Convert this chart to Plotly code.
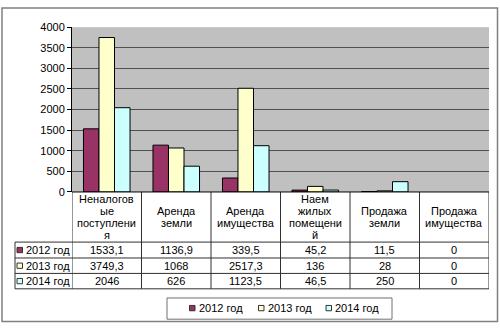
import plotly.graph_objects as go

# ---- data ----
categories = ["Неналогов\nые\nпоступлени\nя", "Аренда\nземли", "Аренда\nимущества",
              "Наем\nжилых\nпомещени\nй", "Продажа\nземли", "Продажа\nимущества"]
series_names = ["2012 год", "2013 год", "2014 год"]
values_2012 = [1533.1, 1136.9, 339.5, 45.2, 11.5, 0]
values_2013 = [3749.3, 1068, 2517.3, 136, 28, 0]
values_2014 = [2046, 626, 1123.5, 46.5, 250, 0]
y_ticks = [0, 500, 1000, 1500, 2000, 2500, 3000, 3500, 4000]

series_values = [values_2012, values_2013, values_2014]
colors = ["#993366", "#FFFFCC", "#CCFFFF"]

W, H = 500, 330
FONT = "Arial, Liberation Sans, sans-serif"


def py(px):
    return (H - px) / H


def px_x(px):
    return px / W


def fmt(v):
    s = f"{v:g}"
    return s.replace(".", ",")


x_idx = list(range(len(categories)))

fig = go.Figure()
for name, vals, col in zip(series_names, series_values, colors):
    fig.add_trace(go.Bar(x=x_idx, y=vals, name=name,
                         marker=dict(color=col,
                                     line=dict(color="#000000",
                                               width=[1 if v else 0 for v in vals])),
                         showlegend=False))

plot_left, plot_right = 72, 489
plot_top, plot_bottom = 22, 193

fig.update_layout(
    width=W, height=H,
    margin=dict(l=0, r=0, t=0, b=0),
    paper_bgcolor="white",
    plot_bgcolor="#C0C0C0",
    barmode="group",
    bargap=0.33,
    bargroupgap=0,
    font=dict(family=FONT, size=11, color="black"),
    xaxis=dict(domain=[px_x(plot_left), px_x(plot_right)],
               range=[-0.5, len(categories) - 0.5],
               showticklabels=False, showgrid=False, zeroline=False,
               showline=False, ticks=""),
    yaxis=dict(domain=[py(plot_bottom), py(plot_top)],
               range=[0, 4000], tickvals=y_ticks,
               ticktext=[str(t) for t in y_ticks],
               showgrid=True, gridcolor="#505050", gridwidth=1,
               zeroline=False, showline=True, linecolor="#000000", linewidth=1,
               ticks="outside", ticklen=4, tickcolor="#000000",
               tickfont=dict(family=FONT, size=11, color="black")),
)

shapes = []
annotations = []
line_col = "#303030"

# table geometry (px)
row_bounds = [193, 245, 261.5, 277.5, 293.5]
label_left = 15

# vertical lines at category boundaries
for k in range(len(categories) + 1):
    shapes.append(dict(type="line", xref="x", yref="paper",
                       x0=k - 0.5, x1=k - 0.5, y0=py(row_bounds[0]), y1=py(row_bounds[-1]),
                       line=dict(color=line_col, width=1)))
# left label column line
shapes.append(dict(type="line", xref="paper", yref="paper",
                   x0=px_x(label_left), x1=px_x(label_left),
                   y0=py(row_bounds[1]), y1=py(row_bounds[-1]),
                   line=dict(color=line_col, width=1)))
# horizontal lines
shapes.append(dict(type="line", xref="paper", yref="paper",
                   x0=px_x(plot_left), x1=px_x(plot_right),
                   y0=py(row_bounds[0]), y1=py(row_bounds[0]),
                   line=dict(color="#000000", width=1)))
for rb in row_bounds[1:]:
    shapes.append(dict(type="line", xref="paper", yref="paper",
                       x0=px_x(label_left), x1=px_x(plot_right),
                       y0=py(rb), y1=py(rb),
                       line=dict(color=line_col, width=1)))

# header text (category labels, wrapped)
hdr_center = (row_bounds[0] + row_bounds[1]) / 2
line_sp = 12.2
for i, cat in enumerate(categories):
    lines = cat.split("\n")
    n = len(lines)
    for j, ln in enumerate(lines):
        yc = hdr_center + (j - (n - 1) / 2) * line_sp
        annotations.append(dict(xref="x", yref="paper", x=i, y=py(yc), text=ln,
                                showarrow=False, xanchor="center", yanchor="middle",
                                font=dict(family=FONT, size=11, color="black")))

# data rows
for r, (name, vals, col) in enumerate(zip(series_names, series_values, colors)):
    yc = (row_bounds[r + 1] + row_bounds[r + 2]) / 2
    for i, v in enumerate(vals):
        annotations.append(dict(xref="x", yref="paper", x=i, y=py(yc), text=fmt(v),
                                showarrow=False, xanchor="center", yanchor="middle",
                                font=dict(family=FONT, size=11, color="black")))
    # legend key
    shapes.append(dict(type="rect", xref="paper", yref="paper",
                       x0=px_x(17), x1=px_x(22.5), y0=py(yc - 2.75), y1=py(yc + 2.75),
                       fillcolor=col, line=dict(color="#333333", width=1)))
    annotations.append(dict(xref="paper", yref="paper", x=px_x(24), y=py(yc), text=name,
                            showarrow=False, xanchor="left", yanchor="middle",
                            font=dict(family=FONT, size=11, color="black")))

# legend box
shapes.append(dict(type="rect", xref="paper", yref="paper",
                   x0=px_x(167), x1=px_x(392), y0=py(325), y1=py(303),
                   fillcolor="white", line=dict(color="#707070", width=1)))
leg_y = 313.5
leg_x = [189.5, 258.5, 326]
for name, col, lx in zip(series_names, colors, leg_x):
    shapes.append(dict(type="rect", xref="paper", yref="paper",
                       x0=px_x(lx), x1=px_x(lx + 5.5), y0=py(leg_y - 2.75), y1=py(leg_y + 2.75),
                       fillcolor=col, line=dict(color="#333333", width=1)))
    annotations.append(dict(xref="paper", yref="paper", x=px_x(lx + 7), y=py(leg_y), text=name,
                            showarrow=False, xanchor="left", yanchor="middle",
                            font=dict(family=FONT, size=11, color="black")))

# outer chart border
shapes.append(dict(type="rect", xref="paper", yref="paper",
                   x0=px_x(2), x1=px_x(497.5), y0=py(327.5), y1=py(2),
                   line=dict(color="#808080", width=1.5)))

fig.update_layout(shapes=shapes, annotations=annotations)
fig.write_html("out.html")
